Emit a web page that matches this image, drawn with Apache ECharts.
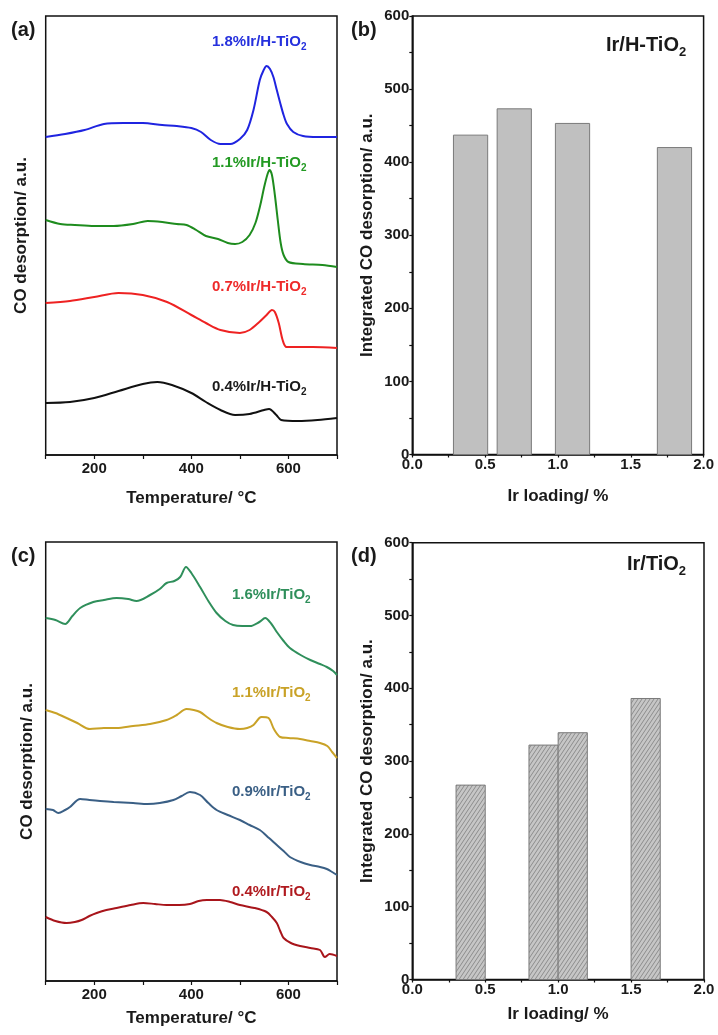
<!DOCTYPE html>
<html>
<head>
<meta charset="utf-8">
<script src="https://cdn.jsdelivr.net/npm/echarts@6/dist/echarts.min.js"></script>
<style>
html,body{margin:0;padding:0;background:#fff;}
#chart{width:718px;height:1035px;}
</style>
</head>
<body>
<div id="chart"></div>
<script>
// ---------- DATA ----------
// Panel (a): CO-TPD on Ir/H-TiO2 (temperature °C, signal a.u.)
const tA18 = [100,140,180,220,260,300,340,370,400,420,440,460,480,500,515,528,541,549,555,562,569,576,583,590,597,610,630,660,700];
const vA18 = [318,321,325,331,332,332,330,329,327,323,315,311,311,316,325,345,375,385,389,386,378,365,352,340,331,323,319,318,318];
const tA11 = [100,130,160,200,240,280,310,340,370,390,410,430,455,475,490,505,520,532,542,550,557,561,566,572,578,584,590,600,630,670,700];
const vA11 = [235,231,230,229,229,231,234,233,231,230,225,219,216,212,211,213,220,232,250,268,281,285,280,260,235,212,200,193,191,190,188];
const tA07 = [100,150,200,250,300,350,400,430,460,500,520,540,555,566,572,580,588,596,650,700];
const vA07 = [152,154,158,162,160,153,140,132,125,122,125,133,140,145,143,132,115,108,108,107];
const tA04 = [100,150,200,250,300,330,360,400,430,460,490,520,550,560,575,585,620,660,700];
const vA04 = [52,53,57,64,71,73,70,62,53,45,40,41,45,46,40,35,34,35,37];

// Panel (c): CO-TPD on Ir/TiO2
const tC16 = [100,120,140,155,171,198,220,246,270,287,315,335,349,365,377,389,400,418,435,452,470,486,505,521,540,552,565,576,590,603,625,645,665,679,692,700];
const vC16 = [363,361,357,365,373,379,381,383,382,380,386,392,398,400,404,414,408,394,380,368,360,356,355,355,359,363,357,349,340,333,326,321,317,314,310,306];
const tC11 = [100,120,143,165,191,220,246,280,315,349,370,390,405,418,435,452,475,500,515,528,540,545,559,570,583,600,624,645,665,680,690,700];
const vC11 = [271,268,263,258,252,253,253,255,257,261,266,272,271,269,263,258,254,252,253,256,263,264,263,252,244,243,242,240,238,235,229,223];
const tC09 = [100,115,126,140,150,171,190,212,240,280,310,335,363,380,397,418,435,452,475,500,520,541,560,576,590,603,625,645,665,679,690,700];
const vC09 = [172,171,168,171,174,182,181,180,179,178,177,178,181,185,189,186,178,171,166,161,156,151,143,136,130,124,119,116,114,112,109,106];
const tC04 = [100,120,143,160,174,190,205,225,246,275,301,325,349,375,397,415,432,459,480,500,530,555,566,576,583,590,605,624,645,665,675,685,700];
const vC04 = [64,60,58,59,61,65,68,71,73,76,78,77,76,76,77,80,81,81,79,76,73,69,64,58,50,43,38,35,33,31,24,27,25];

// Panel (b): integrated CO desorption, Ir/H-TiO2
const loadB = [0.4, 0.7, 1.1, 1.8];
const intB  = [437, 473, 453, 420];
// Panel (d): integrated CO desorption, Ir/TiO2
const loadD = [0.4, 0.9, 1.1, 1.6];
const intD  = [267, 322, 339, 386];

// ---------- STYLE ----------
const FF = '"Liberation Sans", Arial, Helvetica, sans-serif';
const TXT = '#1a1a1a';
const BAR_W_B = 0.235;
const BAR_W_D = 0.2;

const zip = (a, b) => a.map((x, i) => [x, b[i]]);

function hatchCanvas() {
  const w = 4, h = 6;
  const c = document.createElement('canvas');
  c.width = w; c.height = h;
  const g = c.getContext('2d');
  g.fillStyle = '#c6c6c6';
  g.fillRect(0, 0, w, h);
  g.strokeStyle = '#747474';
  g.lineWidth = 0.7;
  g.beginPath();
  g.moveTo(0, h); g.lineTo(w, 0);
  g.moveTo(-w, h); g.lineTo(0, 0);
  g.moveTo(w, h); g.lineTo(2 * w, 0);
  g.stroke();
  return c;
}
const HATCH = hatchCanvas();

function label(text, sub, left, top, color, size, subSize) {
  return {
    text: sub ? '{m|' + text + '}{s|' + sub + '}' : '{m|' + text + '}',
    left: left, top: top, padding: 0,
    textStyle: {
      rich: {
        m: { fontSize: size, fontWeight: 'bold', color: color, fontFamily: FF, lineHeight: size + 1, verticalAlign: 'top' },
        s: { fontSize: subSize, fontWeight: 'bold', color: color, fontFamily: FF, lineHeight: subSize, padding: [Math.round(size * 0.55), 0, 0, 0], verticalAlign: 'top' }
      }
    }
  };
}

const grids = [
  { left: 45.7, top: 16, width: 291.3, height: 439 },     // a
  { left: 412.3, top: 16, width: 291.3, height: 438.5 },  // b
  { left: 45.7, top: 542, width: 291.3, height: 439 },    // c
  { left: 412.3, top: 542.7, width: 291.7, height: 436.8 } // d
].map(g => Object.assign(g, { show: true, borderColor: '#111', borderWidth: 1.5, backgroundColor: 'transparent' }));

const tickLabel = { fontSize: 15, fontWeight: 'bold', color: TXT, fontFamily: FF };
const nameStyle = { fontSize: 17, fontWeight: 'bold', color: TXT, fontFamily: FF };
const axLine = { show: true, lineStyle: { color: '#111', width: 1.5 } };

function tempAxis(gi, gap) {
  return {
    type: 'value', gridIndex: gi, min: 100, max: 700, interval: 100,
    name: 'Temperature/ °C', nameLocation: 'middle', nameGap: gap, nameTextStyle: nameStyle,
    axisLine: axLine,
    axisTick: { show: true, length: 4, lineStyle: { color: '#111', width: 1.2 } },
    axisLabel: { margin: 6, formatter: v => (v % 200 === 0 ? String(v) : ''), ...tickLabel },
    splitLine: { show: false }
  };
}
function loadAxis(gi, gap) {
  return {
    type: 'value', gridIndex: gi, min: 0, max: 2, interval: 0.25,
    name: 'Ir loading/ %', nameLocation: 'middle', nameGap: gap, nameTextStyle: nameStyle,
    axisLine: axLine,
    axisTick: { show: true, length: 3, lineStyle: { color: '#111', width: 1.2 } },
    axisLabel: { margin: 3, showMinLabel: true, showMaxLabel: true,
      formatter: v => (Math.abs(v * 2 - Math.round(v * 2)) < 1e-6 ? v.toFixed(1) : ''), ...tickLabel },
    splitLine: { show: false }
  };
}
function sigAxis(gi, gap, max) {
  return {
    type: 'value', gridIndex: gi, min: 0, max: max,
    name: 'CO desorption/ a.u.', nameLocation: 'middle', nameGap: gap, nameTextStyle: nameStyle,
    axisLine: { show: false }, axisTick: { show: false }, axisLabel: { show: false }, splitLine: { show: false }
  };
}
function intAxis(gi, gap) {
  return {
    type: 'value', gridIndex: gi, min: 0, max: 600, interval: 50,
    name: 'Integrated CO desorption/ a.u.', nameLocation: 'middle', nameGap: gap, nameTextStyle: nameStyle,
    axisLine: axLine,
    axisTick: { show: true, length: 3, lineStyle: { color: '#111', width: 1.2 } },
    axisLabel: { margin: 3, formatter: v => (v % 100 === 0 ? String(v) : ''), ...tickLabel },
    splitLine: { show: false }
  };
}

function line(xi, data, color) {
  return {
    type: 'line', xAxisIndex: xi, yAxisIndex: xi, data: data, showSymbol: false, smooth: 0.3,
    lineStyle: { color: color, width: 2 }, silent: true, animation: false
  };
}
function bars(xi, xs, ys, w, fill) {
  return {
    type: 'custom', xAxisIndex: xi, yAxisIndex: xi, data: zip(xs, ys), encode: { x: 0, y: 1 },
    animation: false, silent: true,
    renderItem: function (params, api) {
      const x = api.value(0), y = api.value(1);
      const tl = api.coord([x - w / 2, y]);
      const br = api.coord([x + w / 2, 0]);
      return { type: 'rect', shape: { x: tl[0], y: tl[1], width: br[0] - tl[0], height: br[1] - tl[1] },
        style: { fill: fill, stroke: '#7a7a7a', lineWidth: 1 } };
    }
  };
}

const option = {
  backgroundColor: '#fff',
  animation: false,
  grid: grids,
  xAxis: [tempAxis(0, 35), loadAxis(1, 33), tempAxis(2, 29), loadAxis(3, 26)],
  yAxis: [sigAxis(0, 16, 439), intAxis(1, 36), sigAxis(2, 10, 439), intAxis(3, 36)],
  title: [
    label('(a)', null, 11, 20, TXT, 20, 12),
    label('(b)', null, 351, 20, TXT, 20, 12),
    label('(c)', null, 11, 546, TXT, 20, 12),
    label('(d)', null, 351, 546, TXT, 20, 12),
    label('Ir/H-TiO', '2', 606, 35, TXT, 20, 13),
    label('Ir/TiO', '2', 627, 554, TXT, 20, 13),
    label('1.8%Ir/H-TiO', '2', 212, 34, '#2530dd', 15, 10),
    label('1.1%Ir/H-TiO', '2', 212, 155, '#239a23', 15, 10),
    label('0.7%Ir/H-TiO', '2', 212, 279, '#ee2a2a', 15, 10),
    label('0.4%Ir/H-TiO', '2', 212, 379, TXT, 15, 10),
    label('1.6%Ir/TiO', '2', 232, 587, '#2f8f5b', 15, 10),
    label('1.1%Ir/TiO', '2', 232, 685, '#c9a227', 15, 10),
    label('0.9%Ir/TiO', '2', 232, 784, '#3a5f85', 15, 10),
    label('0.4%Ir/TiO', '2', 232, 884, '#b01a1f', 15, 10)
  ],
  series: [
    line(0, zip(tA18, vA18), '#1f24e0'),
    line(0, zip(tA11, vA11), '#1e8c1e'),
    line(0, zip(tA07, vA07), '#ee2222'),
    line(0, zip(tA04, vA04), '#111111'),
    bars(1, loadB, intB, BAR_W_B, '#c0c0c0'),
    line(2, zip(tC16, vC16), '#2f8f5b'),
    line(2, zip(tC11, vC11), '#c9a227'),
    line(2, zip(tC09, vC09), '#3a5f85'),
    line(2, zip(tC04, vC04), '#a8151b'),
    bars(3, loadD, intD, BAR_W_D, { image: HATCH, repeat: 'repeat' })
  ]
};

const chart = echarts.init(document.getElementById('chart'), null, { renderer: 'canvas' });
chart.setOption(option);
</script>
</body>
</html>
